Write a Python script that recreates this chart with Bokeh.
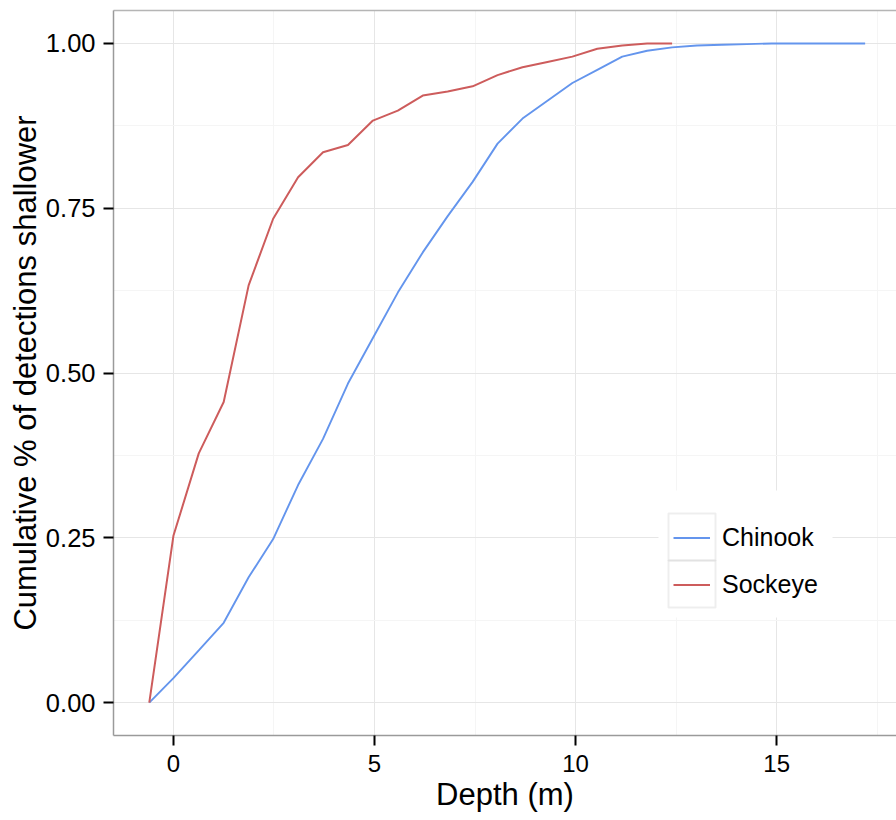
from bokeh.plotting import figure
from bokeh.models import (Range1d, SingleIntervalTicker, LinearAxis, FixedTicker,
                          PrintfTickFormatter, Legend, LegendItem, BoxAnnotation)
from bokeh.embed import file_html
from bokeh.resources import INLINE

# ---- data ----
depth = [-0.6, 0.0, 0.63, 1.25, 1.87, 2.48, 3.1, 3.72, 4.34, 4.96, 5.58, 6.2,
         6.82, 7.44, 8.06, 8.68, 9.3, 9.92, 10.54, 11.16, 11.78, 12.4, 13.02,
         13.64, 14.26, 14.88, 15.5, 16.12, 16.74, 17.2]
chinook = [0.0, 0.037, 0.079, 0.121, 0.19, 0.248, 0.33, 0.40, 0.484, 0.553,
           0.622, 0.683, 0.738, 0.79, 0.848, 0.886, 0.913, 0.940, 0.960, 0.980,
           0.989, 0.994, 0.997, 0.998, 0.999, 1.0, 1.0, 1.0, 1.0, 1.0]
sockeye = [0.0, 0.253, 0.378, 0.456, 0.633, 0.734, 0.797, 0.835, 0.846, 0.883,
           0.898, 0.921, 0.927, 0.935, 0.952, 0.964, 0.972, 0.980, 0.992, 0.997,
           1.0, 1.0]
species = ["Chinook", "Sockeye"]
colors = ["#6495ED", "#CD5C5C"]
x_ticks_interval = 5
y_ticks_interval = 0.25

FONT = "Liberation Sans"

p = figure(width=896, height=820, output_backend="svg", toolbar_location=None,
           x_range=Range1d(-1.49, 17.98), y_range=Range1d(-0.05, 1.05),
           x_axis_label="Depth (m)",
           y_axis_label="Cumulative % of detections shallower",
           min_border_left=113, min_border_right=0, min_border_top=10,
           min_border_bottom=85)
p.outline_line_color = None
p.background_fill_color = "white"
p.border_fill_color = "white"

p.xaxis.ticker = SingleIntervalTicker(interval=x_ticks_interval, num_minor_ticks=2)
p.yaxis.ticker = SingleIntervalTicker(interval=y_ticks_interval, num_minor_ticks=2)
p.yaxis.formatter = PrintfTickFormatter(format="%.2f")

for ax in (p.xaxis[0], p.yaxis[0]):
    ax.major_tick_out = 10
    ax.major_tick_in = 0
    ax.minor_tick_out = 0
    ax.minor_tick_in = 0
    ax.major_tick_line_color = "black"
    ax.major_tick_line_width = 2
    ax.major_label_text_font = FONT
    ax.major_label_text_color = "black"
    ax.axis_label_text_font = FONT
    ax.axis_label_text_font_size = "31px"
    ax.axis_label_text_font_style = "normal"
    ax.axis_label_text_color = "black"
    ax.axis_line_color = "#9a9a9a"
    ax.axis_line_width = 1.5
p.xaxis.major_label_text_font_size = "24px"
p.yaxis.major_label_text_font_size = "25.5px"
p.xaxis.major_label_standoff = 9
p.yaxis.major_label_standoff = 8
p.xaxis.axis_label_standoff = 2
p.yaxis.axis_label_standoff = 0

top = LinearAxis(ticker=FixedTicker(ticks=[]), axis_line_color="#b5b5b5",
                 axis_line_width=1.5, major_tick_out=0, major_tick_in=0,
                 minor_tick_out=0, minor_tick_in=0)
p.add_layout(top, "above")

p.xgrid.grid_line_color = "#e6e6e6"
p.ygrid.grid_line_color = "#e6e6e6"
p.xgrid.minor_grid_line_color = "#f5f5f5"
p.ygrid.minor_grid_line_color = "#f5f5f5"

r1 = p.line(depth, chinook, line_color=colors[0], line_width=1.9)
r2 = p.line(depth[:len(sockeye)], sockeye, line_color=colors[1], line_width=2.0)

# legend background and grey key boxes (screen units from frame bottom-left)
bg = BoxAnnotation(left=545, right=719, top=245, bottom=118,
                   left_units="screen", right_units="screen",
                   top_units="screen", bottom_units="screen",
                   fill_color="white", fill_alpha=1.0, line_color=None,
                   level="annotation")
p.add_layout(bg)
for top_px in (222, 175):
    box = BoxAnnotation(left=555, right=602, top=top_px, bottom=top_px - 47,
                        left_units="screen", right_units="screen",
                        top_units="screen", bottom_units="screen",
                        fill_alpha=0, line_color="#c8c8c8", line_width=2,
                        level="annotation")
    p.add_layout(box)

legend = Legend(items=[LegendItem(label=species[0], renderers=[r1]),
                       LegendItem(label=species[1], renderers=[r2])],
                location=(560, 127), orientation="vertical",
                glyph_width=37, glyph_height=47, spacing=0, padding=10,
                margin=0, label_standoff=12, label_text_font=FONT,
                label_text_font_size="25px", label_text_color="black",
                border_line_color=None, background_fill_alpha=0.0,
                label_height=47)
p.add_layout(legend, "center")

open("out.html", "w").write(file_html(p, INLINE))
